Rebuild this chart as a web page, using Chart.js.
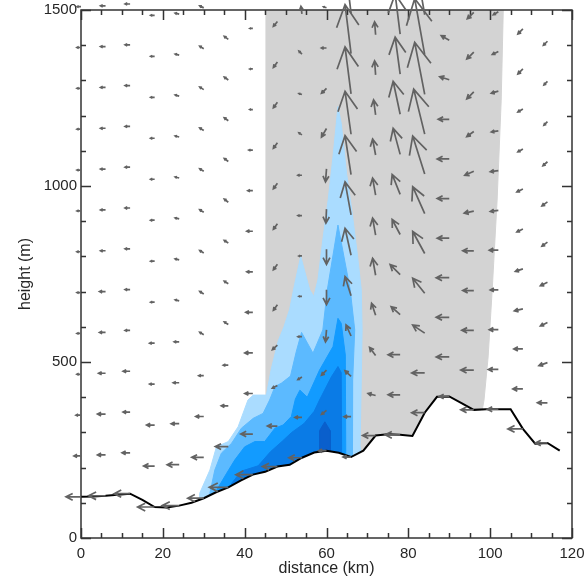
<!DOCTYPE html>
<html>
<head>
<meta charset="utf-8">
<script src="https://cdn.jsdelivr.net/npm/chart.js@4.4.1/dist/chart.umd.min.js"></script>
<style>
  body { margin: 0; background: #fff; }
  #wrap { width: 585px; height: 578px; }
</style>
</head>
<body>
<div id="wrap"><canvas id="xsec" width="585" height="578"></canvas></div>
<script>
// terrain profile (km, m)
const TERRAIN_X = [0, 3, 6, 9, 12, 15, 18, 21, 24, 27, 30, 33, 36, 39, 42, 45, 48, 51, 54, 57,
  60, 63, 66, 69, 72, 75, 78, 81, 84, 87, 90, 93, 96, 99, 102, 105, 108, 111, 114, 117];
const TERRAIN_Z = [117, 118, 120, 123, 126, 108, 88, 87, 92, 100, 113, 130, 144, 163, 180, 188, 203, 208, 228, 243,
  248, 242, 230, 248, 291, 295, 293, 290, 356, 401, 402, 383, 364, 366, 366, 366, 310, 268, 270, 248];

// shaded (gray) region outline
const GRAY_X = [45.2, 45.2, 103.2, 102.7, 101.7, 100.5, 99.5, 98.5, 98.1, 98.1];
const GRAY_Z = [0, 1500, 1500, 1244, 960, 705, 514, 392, 366, 0];

// filled contour outlines, lightest to darkest
const L1_X = [29, 29, 31.5, 33.1, 36, 38.4, 40.8, 42.1, 45.3, 46.5, 48.2, 49.6, 51, 52.2, 53.7, 55.9, 56.9, 57.9,
  59.1, 60.4, 61.6, 62.4, 62.8, 63.6, 64.9, 66.2, 67.6, 68.5, 68.7, 68.5, 68.2, 68.2];
const L1_Z = [0, 127, 193, 259, 274, 316, 392, 406, 406, 480, 560, 600, 650, 720, 800, 705, 686, 733,
  847, 960, 1084, 1178, 1226, 1178, 1036, 930, 800, 705, 591, 449, 259, 0];
const L2_X = [31.5, 31.5, 32.7, 34.3, 36.8, 39.2, 42.1, 44.5, 46.1, 47.4, 49, 51.2, 52.6, 53.9, 56.7, 59.1, 60.2, 62.8, 65.8, 66.9, 66.4, 66.3];
const L2_Z = [0, 127, 193, 241, 269, 312, 340, 354, 392, 430, 440, 460, 529, 584, 525, 591, 705, 889, 705, 591, 449, 0];
const L3_X = [32.7, 32.7, 35.6, 37.6, 40, 42.5, 44.9, 47.4, 49.4, 51.4, 52.4, 53.5, 55.3, 58.3, 61.6, 62.8, 63.6, 64.6, 64.8];
const L3_Z = [0, 127, 184, 222, 259, 274, 274, 312, 321, 345, 395, 420, 400, 477, 544, 624, 610, 520, 0];
const L4_X = [36.8, 36.8, 39.2, 43.3, 46.3, 49.2, 51.5, 54.5, 57, 58.3, 61.2, 62.8, 63.6, 63.8];
const L4_Z = [0, 155, 190, 205, 245, 275, 300, 325, 360, 392, 458, 487, 470, 0];
const L5_X = [58.3, 58.3, 59.6, 60.9, 60.9];
const L5_Z = [0, 305, 330, 305, 0];

// wind columns (km) and components per terrain-following level, bottom up
const COLS = [0, 6, 12, 18, 24, 30, 36, 42, 48, 54, 60, 66, 72, 78, 84, 90, 96, 102, 108, 114];
// horizontal wind (m/s)
const WIND_U = [
  [-7.5, -3.5, -2.5, -2, -2, -2, -2, -2, -2, -2, -2, -2, -2],
  [-8.5, -4, -4, -3.5, -3, -3, -2.5, -2.5, -2.5, -2.5, -2.5, -2.5, -2.5],
  [-8, -4, -3.5, -3.5, -2.5, -2.5, -2.5, -2.5, -2.5, -2.5, -2.5, -2.5, -2.5],
  [-8.5, -5.5, -4, -2.5, -2.5, -2, -2, -2, -2, -2, -2, -2, -2],
  [-8.5, -6, -4, -3, -2.5, -2, -2, -2, -2, -2, -2, -2, -2],
  [-8, -6, -4, -2.5, -2, -2, -2, -2, -2, -2, -2, -2, -2],
  [-9.5, -6.5, -3.5, -2.5, -2, -2, -2, -2, -2, -2, -2, -2],
  [-8.5, -6, -4, -4, -3.5, -3, -3, -2.5, -2, -1.5, -1.5, -1.5],
  [-7.5, -5, -2.5, -2.5, -2, -2, -2, -2, -2, -2, -2, -2],
  [-6.5, -3.5, -2, -2, -1.5, -1.5, -2, -2, -1.5, -1.5, -1.5, -0.5],
  [-4, -2.5, -2.5, -0.5, 0, 0, -0.3, -0.5, -2.5, -2.5, -2.5, -1.5],
  [-4, -3.5, -3, -2.5, -3, -3, -3, -3, -3, -3, -3, -3],
  [-6.5, -3.75, -3, -2, -1.5, -1.5, -1.5, -1.5, -1, -0.5, -0.5],
  [-7.5, -6, -6, -4.5, -5, -4, -4, -3.5, -3.5, -2.5, -2.5],
  [-6.5, -6.5, -6, -6, -6, -6, -6, -5.5, -5, -5, -5],
  [-5, -6.5, -6.5, -6.5, -6, -6, -6, -5.5, -4.75, -4],
  [-6.5, -6.5, -6, -5.5, -5.5, -4.75, -4.5, -3.5, -3.5, -3.5, -3.25],
  [-5.5, -5, -4.5, -4, -4.5, -4, -4, -3.5, -3.5, -3, -2.5],
  [-7.5, -5, -4.5, -4.25, -3.75, -3, -3, -2.5, -2.5, -2.5, -2.5],
  [-6, -5, -4.25, -3.5, -3.5, -2.75, -2.75, -2.25, -1.75, -1.75, -2, -2]
];
// vertical wind (cm/s)
const WIND_W = [
  [0, 0, 0, 0, 0, 0, 0, 0, 0, 0, 0, 0, 0],
  [0, 0, 0, 0, 0, 0, 0, 0, 0, 0, 0, 0, 0],
  [0, 0, 0, 0, 0, 0, 0, 0, 0, 0, 0, 0, 0],
  [0, 0, 0, 0, 0, 0, 0, 0, 0, 0, 0, 0, 0],
  [0, 0, 0, 0, 0, 2, 2, 2, 2, 2, 2, 2, 2],
  [0, 0, 0, 0, 5, 5, 5, 5, 5, 5, 5, 5, 4],
  [0, 0, 0, 0, 5, 5, 5, 6, 6, 6, 6, 6],
  [0, 0, 0, 0, 0, 0, 0, 0, 0, 0, 0, 0],
  [0, 0, -5, -9, -11, -11, -11, -11, -11, -11, -11, -10],
  [0, 0, -5, 0, 0, 0, 0, 0, 4, 2, 6, 15],
  [0, -8, -10, -24, -30, -30, -28, -26, -17, -10, 0, 2],
  [0, 0, 11, 22, 38, 54, 66, 78, 86, 94, 98, 100],
  [0, 4, 16, 24, 34, 34, 34, 32, 30, 28, 26],
  [0, 0, 0, 16, 20, 30, 40, 52, 66, 74, 80],
  [0, 0, 16, 30, 44, 54, 76, 90, 104, 112, 116],
  [0, 0, 0, 0, 0, 0, 0, 0, 6, 9],
  [0, 0, 0, 0, 0, -4, -8, -10, -14, -14, -13],
  [0, 0, 0, 0, 0, -2, -2, -2, -4, -6, -6],
  [0, 0, 0, -4, -5, -6, -6, -6, -6, -10, -10],
  [0, 0, -6, -7, -7, -8, -8, -8, -7, -7, -8, -8]
];

// sigma grid: level spacing shrinks with terrain height
const MODEL_TOP = 9400;
const N_LEVELS = 80;

const U_PX = 2;     // px per m/s
const W_PX = 0.5;   // px per cm/s
const HEAD = 0.5;
const HEAD_ANG = 27 * Math.PI / 180;

const FONT = "'Liberation Sans', Arial, sans-serif";
const TEXT = "#262626";

function pts(xs, zs) {
  return xs.map((x, i) => ({ x, y: zs[i] }));
}

function shape(label, xs, zs, color, order) {
  return {
    label,
    data: pts(xs, zs),
    showLine: true,
    fill: "shape",
    backgroundColor: color,
    borderColor: color,
    borderWidth: 1,
    pointRadius: 0,
    order,
  };
}

const frameAndArrows = {
  id: "frameAndArrows",
  afterDatasetsDraw(chart) {
    const { ctx, chartArea: a, scales: { x, y } } = chart;
    ctx.save();

    // frame with inward ticks
    ctx.strokeStyle = "#333";
    ctx.lineWidth = 1.5;
    ctx.strokeRect(a.left, a.top, a.right - a.left, a.bottom - a.top);
    ctx.beginPath();
    for (let v = 0; v <= 120; v += 5) {
      const px = Math.round(x.getPixelForValue(v)) + 0.5;
      const len = v % 20 === 0 ? 10 : 5;
      ctx.moveTo(px, a.bottom); ctx.lineTo(px, a.bottom - len);
      ctx.moveTo(px, a.top); ctx.lineTo(px, a.top + len);
    }
    for (let v = 0; v <= 1500; v += 100) {
      const py = Math.round(y.getPixelForValue(v)) + 0.5;
      const len = v % 500 === 0 ? 10 : 5;
      ctx.moveTo(a.left, py); ctx.lineTo(a.left + len, py);
      ctx.moveTo(a.right, py); ctx.lineTo(a.right - len, py);
    }
    ctx.stroke();

    // wind arrows, tail at the grid point
    ctx.strokeStyle = "#626262";
    ctx.lineWidth = 1.7;
    COLS.forEach((c, i) => {
      const h = TERRAIN_Z[TERRAIN_X.indexOf(c)];
      const dz = (MODEL_TOP - h) / N_LEVELS;
      WIND_U[i].forEach((u, k) => {
        const z = h + k * dz;
        if (z > 1520) return;
        const x0 = x.getPixelForValue(c);
        const y0 = y.getPixelForValue(z);
        const dx = u * U_PX;
        const dy = -WIND_W[i][k] * W_PX;
        const len = Math.hypot(dx, dy);
        if (len < 0.5) return;
        const x1 = x0 + dx, y1 = y0 + dy;
        const ang = Math.atan2(dy, dx);
        const hl = len * HEAD;
        ctx.beginPath();
        ctx.moveTo(x0, y0);
        ctx.lineTo(x1, y1);
        ctx.moveTo(x1 - hl * Math.cos(ang - HEAD_ANG), y1 - hl * Math.sin(ang - HEAD_ANG));
        ctx.lineTo(x1, y1);
        ctx.lineTo(x1 - hl * Math.cos(ang + HEAD_ANG), y1 - hl * Math.sin(ang + HEAD_ANG));
        ctx.stroke();
      });
    });
    ctx.restore();
  },
};

new Chart(document.getElementById("xsec"), {
  type: "scatter",
  data: {
    datasets: [
      {
        label: "terrain",
        data: pts(TERRAIN_X, TERRAIN_Z),
        showLine: true,
        fill: "origin",
        backgroundColor: "#ffffff",
        borderColor: "#000000",
        borderWidth: 2,
        pointRadius: 0,
        order: 1,
      },
      shape("c5", L5_X, L5_Z, "#0a5fcc", 2),
      shape("c4", L4_X, L4_Z, "#0a7be6", 3),
      shape("c3", L3_X, L3_Z, "#129bff", 4),
      shape("c2", L2_X, L2_Z, "#5cbaff", 5),
      shape("c1", L1_X, L1_Z, "#aadcff", 6),
      shape("gray", GRAY_X, GRAY_Z, "#d3d3d3", 7),
    ],
  },
  options: {
    responsive: false,
    animation: false,
    events: [],
    layout: { padding: { left: 0, right: 13, top: 10, bottom: 0 } },
    plugins: { legend: { display: false }, tooltip: { enabled: false } },
    scales: {
      x: {
        type: "linear",
        min: 0,
        max: 120,
        afterFit: (s) => { s.height = 40; s.paddingLeft = 0; s.paddingRight = 0; },
        grid: { display: false, drawTicks: false },
        border: { display: false },
        ticks: { stepSize: 20, autoSkip: false, maxRotation: 0, padding: 7, color: TEXT, font: { family: FONT, size: 15 },
          callback: (v) => String(v) },
        title: { display: true, text: "distance (km)", color: TEXT, padding: { top: 0, bottom: 0 }, font: { family: FONT, size: 16 } },
      },
      y: {
        type: "linear",
        min: 0,
        max: 1500,
        afterFit: (s) => { s.width = 81; s.paddingTop = 0; s.paddingBottom = 0; },
        grid: { display: false, drawTicks: false },
        border: { display: false },
        ticks: { stepSize: 500, autoSkip: false, padding: 4, color: TEXT, font: { family: FONT, size: 15 },
          callback: (v) => String(v) },
        title: { display: true, text: "height (m)", color: TEXT, padding: { top: 16, bottom: 0 }, font: { family: FONT, size: 16 } },
      },
    },
  },
  plugins: [frameAndArrows],
});
</script>
</body>
</html>
